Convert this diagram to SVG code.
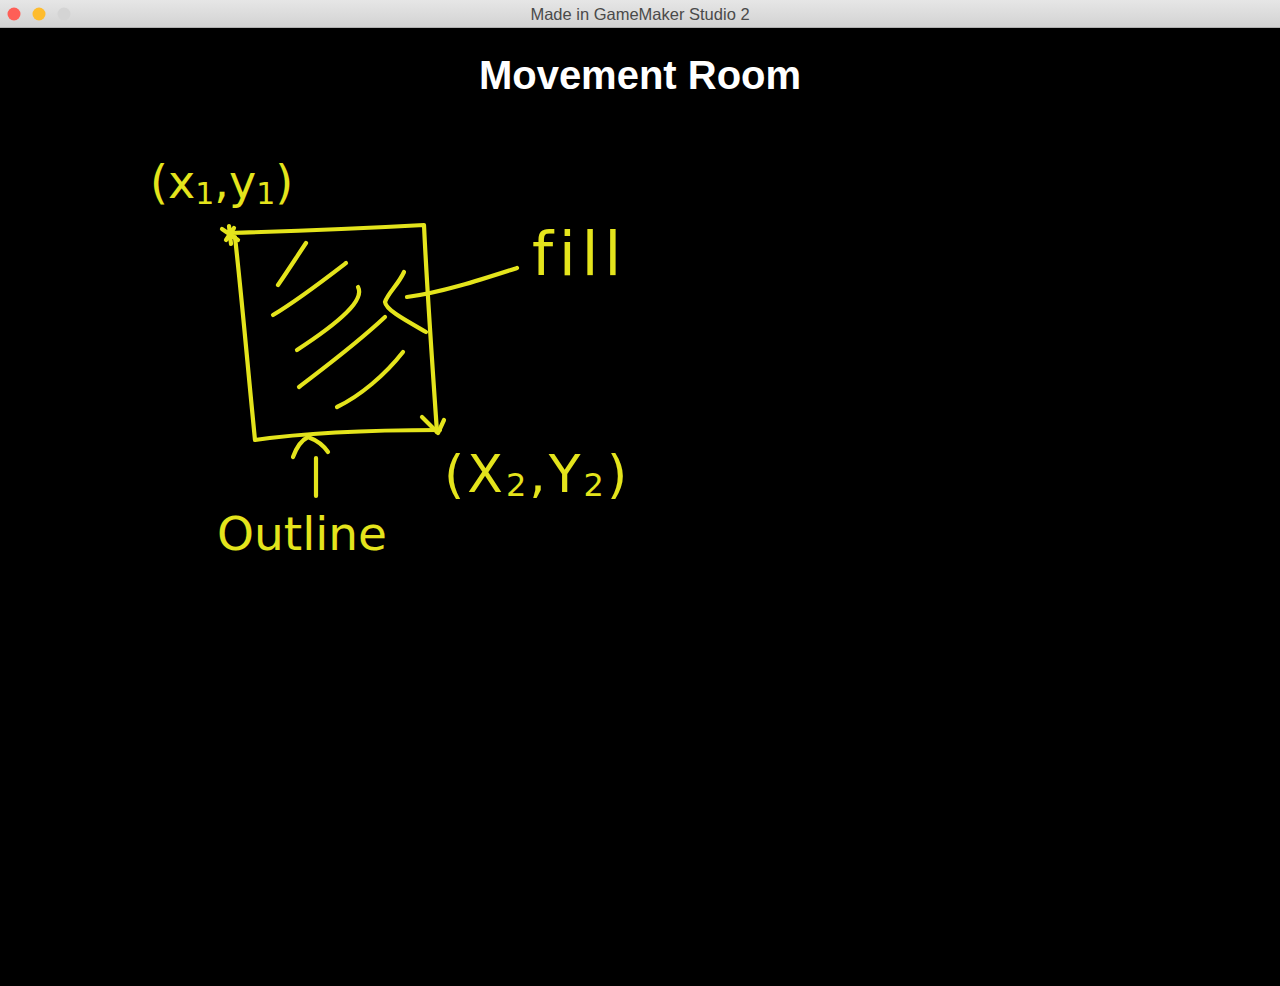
<svg xmlns="http://www.w3.org/2000/svg" width="1280" height="986" viewBox="0 0 1280 986">
<defs>
<linearGradient id="tb" x1="0" y1="0" x2="0" y2="1">
<stop offset="0" stop-color="#e6e6e6"/><stop offset="1" stop-color="#d2d2d2"/>
</linearGradient>
<style>
.ink{fill:none;stroke:#e4e41c;stroke-width:4.2;stroke-linecap:round;stroke-linejoin:round}
.hand{fill:#e4e41c;font-family:"DejaVu Sans","Liberation Sans",sans-serif}
</style>
</defs>
<rect width="1280" height="986" fill="#000"/>
<g id="titlebar">
<rect width="1280" height="28" fill="url(#tb)"/>
<line x1="0" y1="27.5" x2="1280" y2="27.5" stroke="#b0b0b0"/>
<circle cx="14" cy="14" r="6.5" fill="#fe5f57"/>
<circle cx="39" cy="14" r="6.5" fill="#febc2e"/>
<circle cx="64" cy="14" r="6.5" fill="#d4d4d4"/>
<text x="640" y="20" text-anchor="middle" font-family="Helvetica,'Liberation Sans',Arial,sans-serif" font-size="16.5" fill="#4a4a4a">Made in GameMaker Studio 2</text>
</g>
<text id="title" x="640" y="89" text-anchor="middle" font-family="'Liberation Sans',Arial,sans-serif" font-weight="bold" font-size="40" fill="#fff">Movement Room</text>
<g id="box">
<path class="ink" d="M229,233 C300,231 370,228 424,225 M424,225 C427,290 432,360 437,432 M235,237 C242,300 248,370 255,440 M255,440 C310,432 380,430 440,430"/>
<path class="ink" d="M222,229 L238,240 M226,240 L234,228 M229,226 L231,244"/>
<path class="ink" d="M422,417 L438,433 L444,420"/>
</g>
<g id="hatch">
<path class="ink" d="M306,243 C296,258 287,272 278,285"/>
<path class="ink" d="M346,263 C320,283 298,300 273,315"/>
<path class="ink" d="M358,287 C365,300 340,322 297,350"/>
<path class="ink" d="M385,317 C355,345 325,367 299,387"/>
<path class="ink" d="M403,352 C385,375 360,396 337,407"/>
</g>
<g id="connectors">
<path class="ink" d="M404,272 C398,285 388,293 385,302 C386,310 405,320 426,332"/>
<path class="ink" d="M407,297 C440,293 480,280 517,268"/>
<path class="ink" d="M316,458 L316,496 M293,457 C297,446 302,440 308,437 C316,440 324,446 328,452"/>
</g>
<g id="label-x1y1">
<text class="hand" x="150" y="198" font-size="46">(x<tspan font-size="30" dy="6">1</tspan><tspan dy="-6">,y</tspan><tspan font-size="30" dy="6">1</tspan><tspan dy="-6">)</tspan></text>
</g>
<g id="label-fill">
<text class="hand" x="532" y="275" font-size="60" letter-spacing="6">fill</text>
</g>
<g id="label-x2y2">
<text class="hand" x="444" y="492" font-size="52" letter-spacing="3">(X<tspan font-size="32" dy="4">2</tspan><tspan dy="-4">,Y</tspan><tspan font-size="32" dy="4">2</tspan><tspan dy="-4">)</tspan></text>
</g>
<g id="label-outline">
<text class="hand" x="217" y="550" font-size="47">Outline</text>
</g>
</svg>
